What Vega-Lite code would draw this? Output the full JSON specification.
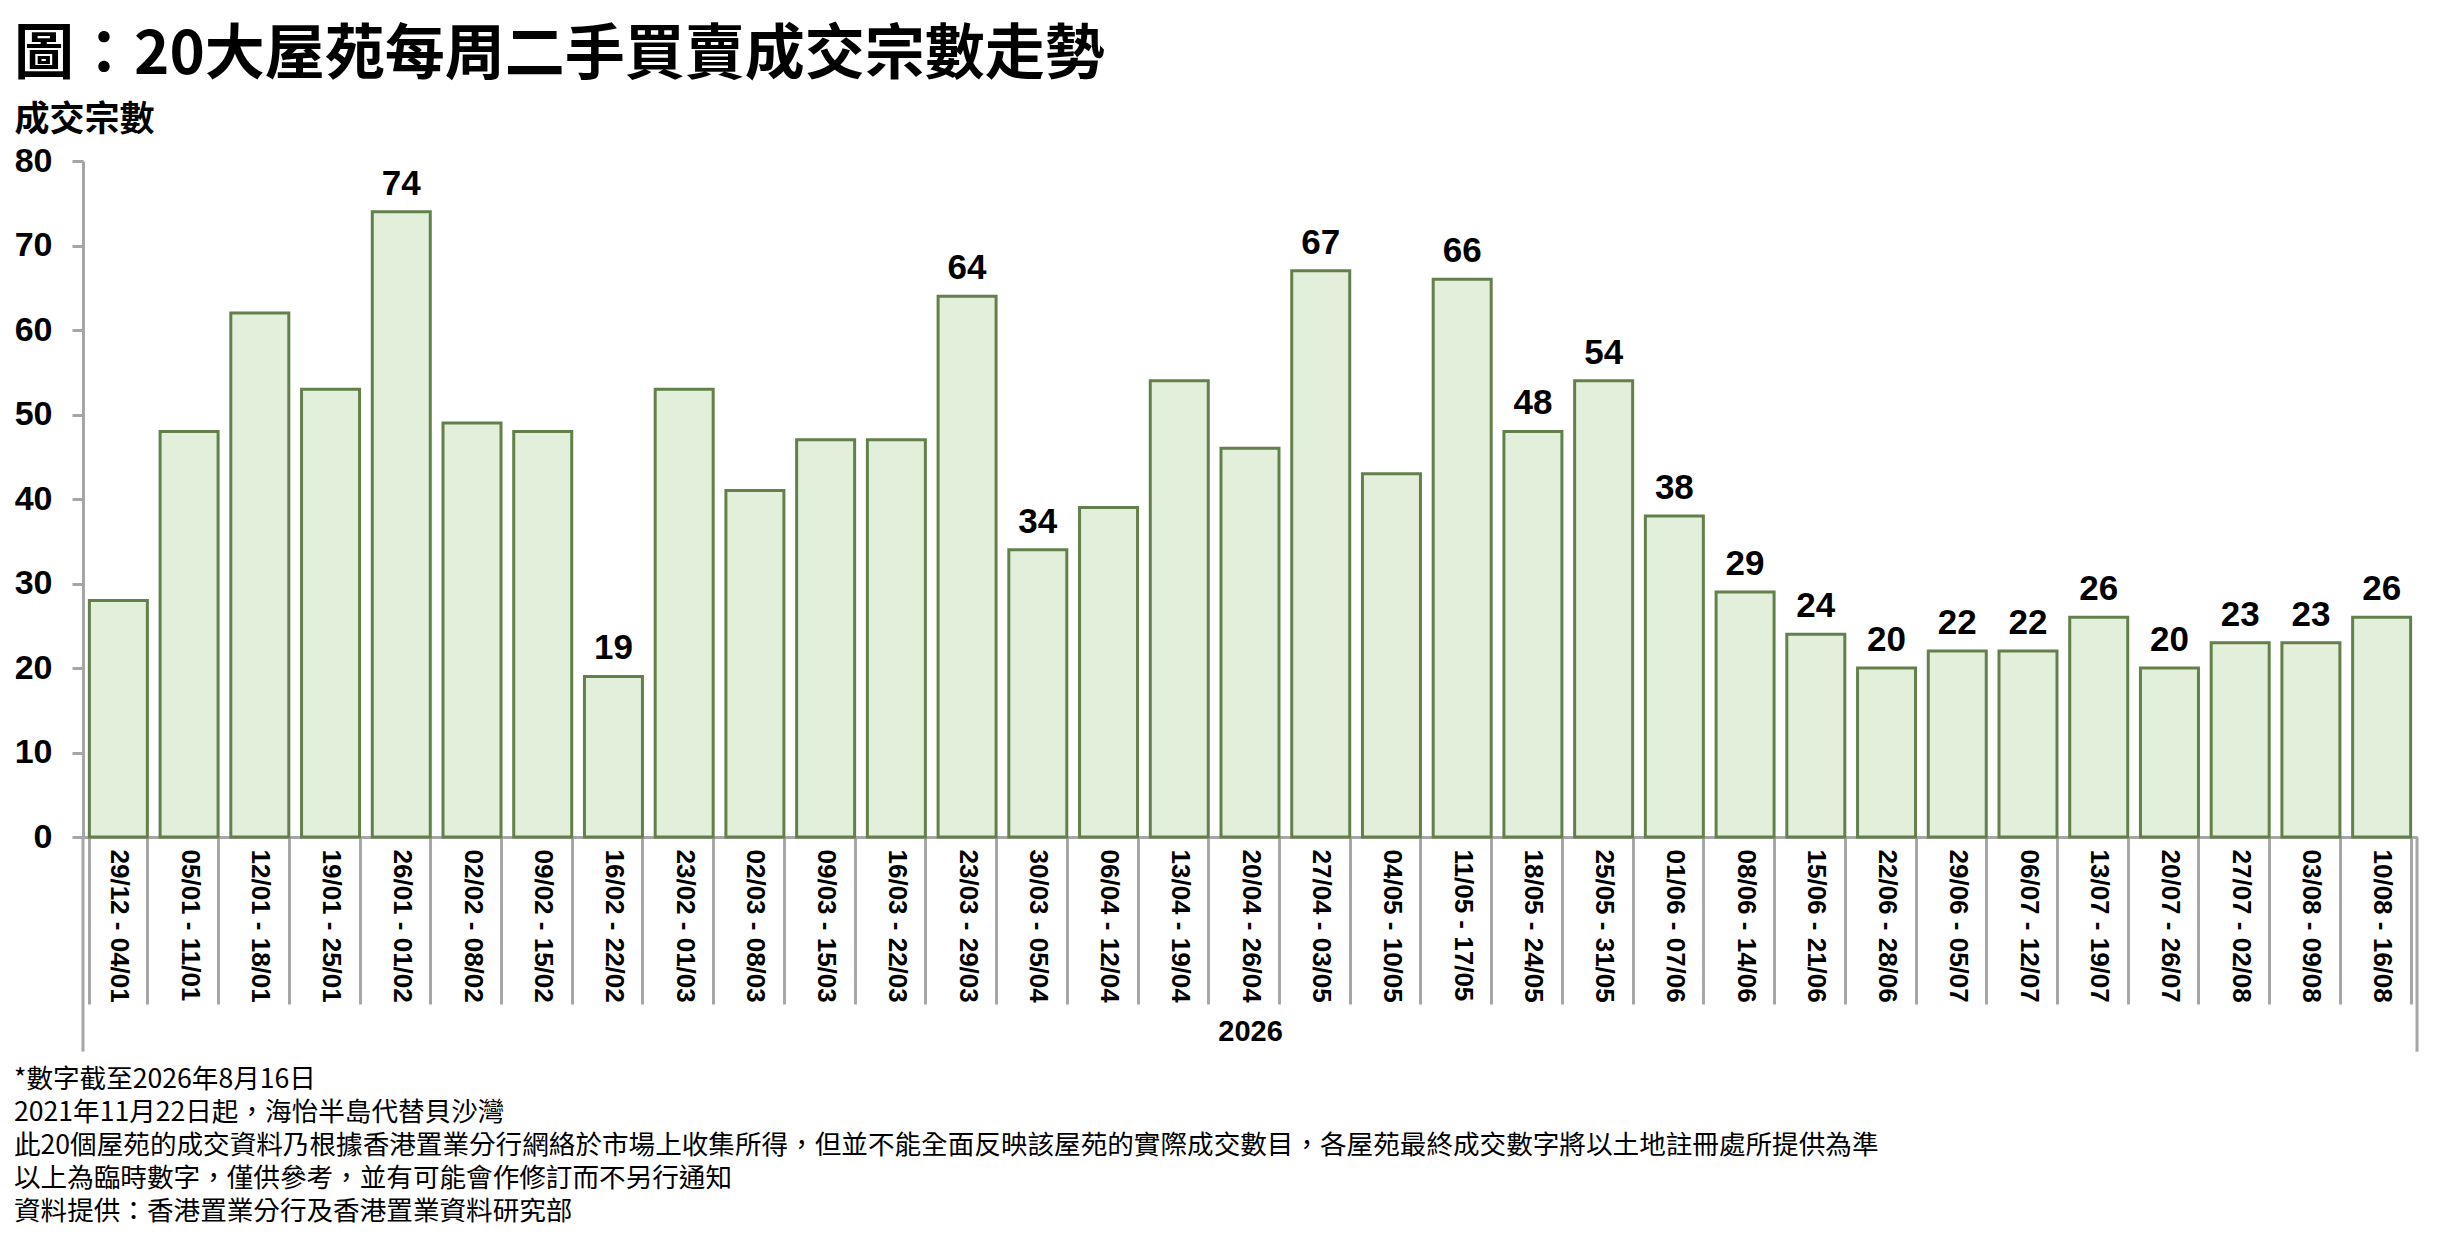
{
  "$schema": "https://vega.github.io/schema/vega-lite/v6.json",
  "background": "white",
  "padding": {"left": 14, "top": 26, "right": 21, "bottom": 4},
  "title": {
    "text": "圖：20大屋苑每周二手買賣成交宗數走勢",
    "anchor": "start",
    "frame": "bounds",
    "font": "Noto Sans CJK TC",
    "fontSize": 60,
    "fontWeight": "bold",
    "color": "#000000",
    "offset": 15
  },
  "config": {"view": {"stroke": null}},
  "vconcat": [
    {
      "width": 2334,
      "height": 676,
      "title": {
        "text": [
          "*數字截至2026年8月16日",
          "2021年11月22日起，海怡半島代替貝沙灣",
          "此20個屋苑的成交資料乃根據香港置業分行網絡於市場上收集所得，但並不能全面反映該屋苑的實際成交數目，各屋苑最終成交數字將以土地註冊處所提供為準",
          "以上為臨時數字，僅供參考，並有可能會作修訂而不另行通知",
          "資料提供：香港置業分行及香港置業資料研究部"
        ],
        "orient": "bottom",
        "anchor": "start",
        "frame": "bounds",
        "font": "Noto Sans CJK TC",
        "fontSize": 26.6,
        "fontWeight": "normal",
        "lineHeight": 33,
        "offset": 14,
        "color": "#000000"
      },
      "data": {
        "values": [
          {"week": "29/12 - 04/01", "count": 28, "label": ""},
          {"week": "05/01 - 11/01", "count": 48, "label": ""},
          {"week": "12/01 - 18/01", "count": 62, "label": ""},
          {"week": "19/01 - 25/01", "count": 53, "label": ""},
          {"week": "26/01 - 01/02", "count": 74, "label": "74"},
          {"week": "02/02 - 08/02", "count": 49, "label": ""},
          {"week": "09/02 - 15/02", "count": 48, "label": ""},
          {"week": "16/02 - 22/02", "count": 19, "label": "19"},
          {"week": "23/02 - 01/03", "count": 53, "label": ""},
          {"week": "02/03 - 08/03", "count": 41, "label": ""},
          {"week": "09/03 - 15/03", "count": 47, "label": ""},
          {"week": "16/03 - 22/03", "count": 47, "label": ""},
          {"week": "23/03 - 29/03", "count": 64, "label": "64"},
          {"week": "30/03 - 05/04", "count": 34, "label": "34"},
          {"week": "06/04 - 12/04", "count": 39, "label": ""},
          {"week": "13/04 - 19/04", "count": 54, "label": ""},
          {"week": "20/04 - 26/04", "count": 46, "label": ""},
          {"week": "27/04 - 03/05", "count": 67, "label": "67"},
          {"week": "04/05 - 10/05", "count": 43, "label": ""},
          {"week": "11/05 - 17/05", "count": 66, "label": "66"},
          {"week": "18/05 - 24/05", "count": 48, "label": "48"},
          {"week": "25/05 - 31/05", "count": 54, "label": "54"},
          {"week": "01/06 - 07/06", "count": 38, "label": "38"},
          {"week": "08/06 - 14/06", "count": 29, "label": "29"},
          {"week": "15/06 - 21/06", "count": 24, "label": "24"},
          {"week": "22/06 - 28/06", "count": 20, "label": "20"},
          {"week": "29/06 - 05/07", "count": 22, "label": "22"},
          {"week": "06/07 - 12/07", "count": 22, "label": "22"},
          {"week": "13/07 - 19/07", "count": 26, "label": "26"},
          {"week": "20/07 - 26/07", "count": 20, "label": "20"},
          {"week": "27/07 - 02/08", "count": 23, "label": "23"},
          {"week": "03/08 - 09/08", "count": 23, "label": "23"},
          {"week": "10/08 - 16/08", "count": 26, "label": "26"}
        ]
      },
      "encoding": {
        "x": {
          "field": "week",
          "type": "nominal",
          "sort": null,
          "scale": {"paddingInner": 0.18, "paddingOuter": 0.09},
          "axis": {
            "title": "2026",
            "titleFont": "Liberation Sans, Arial, sans-serif",
            "titleFontSize": 29,
            "titleFontWeight": "bold",
            "titleColor": "#000000",
            "titlePadding": 12,
            "labelAngle": 90,
            "labelAlign": "left",
            "labelBaseline": "middle",
            "labelFont": "Liberation Sans, Arial, sans-serif",
            "labelFontSize": 26,
            "labelFontWeight": "bold",
            "labelColor": "#000000",
            "labelPadding": -155,
            "labelOverlap": false,
            "labelLimit": 0,
            "tickBand": "extent",
            "tickSize": 167,
            "tickWidth": 3,
            "tickColor": "#a6a6a6",
            "domainColor": "#a6a6a6",
            "domainWidth": 3
          }
        }
      },
      "layer": [
        {
          "mark": {"type": "bar", "fill": "#e2efda", "stroke": "#63804b", "strokeWidth": 3},
          "encoding": {
            "y": {
              "field": "count",
              "type": "quantitative",
              "scale": {"domain": [0, 80], "nice": false},
              "axis": {
                "title": "成交宗數",
                "titleAngle": 0,
                "titleAlign": "left",
                "titleBaseline": "alphabetic",
                "titleX": -69,
                "titleY": -31,
                "titleFont": "Noto Sans CJK TC",
                "titleFontSize": 35,
                "titleFontWeight": "bold",
                "titleColor": "#000000",
                "values": [0, 10, 20, 30, 40, 50, 60, 70, 80],
                "labelFont": "Liberation Sans, Arial, sans-serif",
                "labelFontSize": 34,
                "labelFontWeight": "bold",
                "labelColor": "#000000",
                "labelPadding": 20,
                "tickSize": 11,
                "tickWidth": 3,
                "tickColor": "#a6a6a6",
                "domainColor": "#a6a6a6",
                "domainWidth": 3,
                "grid": false
              }
            }
          }
        },
        {
          "mark": {
            "type": "text",
            "font": "Liberation Sans, Arial, sans-serif",
            "fontSize": 35,
            "fontWeight": "bold",
            "color": "#000000",
            "baseline": "alphabetic",
            "dy": -17
          },
          "encoding": {
            "y": {"field": "count", "type": "quantitative"},
            "text": {"field": "label"}
          }
        },
        {
          "transform": [{"filter": "datum.week == '29/12 - 04/01'"}],
          "mark": {"type": "rule", "color": "#a6a6a6", "strokeWidth": 3},
          "encoding": {
            "x": {"field": "week", "type": "nominal", "sort": null, "bandPosition": -0.11},
            "y": {"datum": 0, "type": "quantitative"},
            "y2": {"datum": -25.4}
          }
        },
        {
          "transform": [{"filter": "datum.week == '10/08 - 16/08'"}],
          "mark": {"type": "rule", "color": "#a6a6a6", "strokeWidth": 3},
          "encoding": {
            "x": {"field": "week", "type": "nominal", "sort": null, "bandPosition": 1.11},
            "y": {"datum": 0, "type": "quantitative"},
            "y2": {"datum": -25.4}
          }
        }
      ]
    }
  ]
}
